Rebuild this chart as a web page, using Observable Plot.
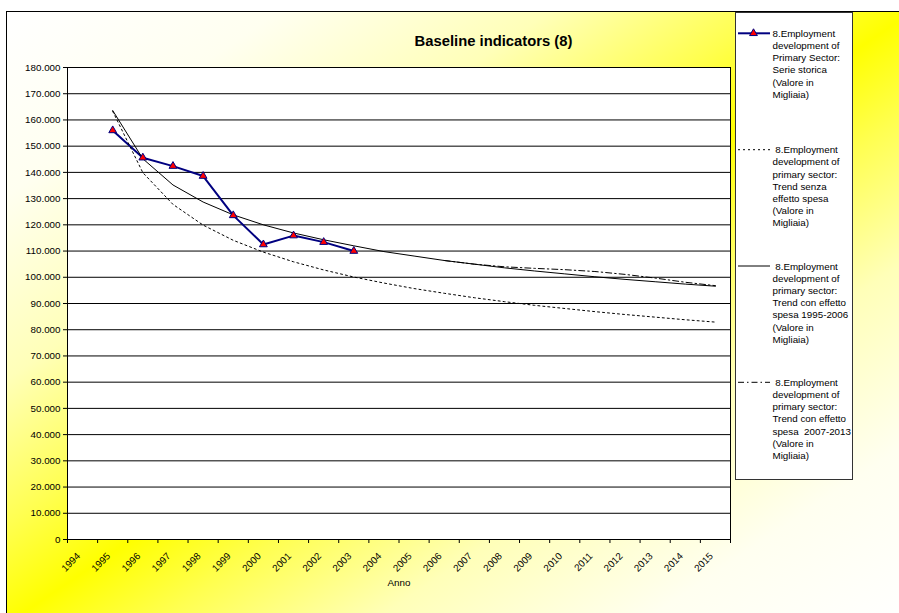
<!DOCTYPE html>
<html><head><meta charset="utf-8">
<script src="https://cdn.jsdelivr.net/npm/d3@7"></script>
<script src="https://cdn.jsdelivr.net/npm/@observablehq/plot@0.6"></script>
<style>
body{margin:0;background:#fff;}
#wrap{position:relative;width:899px;height:613px;overflow:hidden;font-family:Arial,"Liberation Sans",sans-serif;background:#fff;}
#bg{position:absolute;left:6px;top:11px;width:905px;height:612px;border:1px solid #000;
background:linear-gradient(to bottom right,#ffffff 0%,#fffff0 15%,#ffffb8 30%,#ffff50 42%,#ffff00 50%,#ffff50 58%,#ffffb8 70%,#fffff0 85%,#ffffff 100%);}
#wrap svg{position:absolute;left:0;top:0;}
</style>
</head><body>
<div id="wrap"><div id="bg"></div></div>
<script>
// ---- data ----
const categories = [1994,1995,1996,1997,1998,1999,2000,2001,2002,2003,2004,2005,2006,2007,2008,2009,2010,2011,2012,2013,2014,2015];
const yTicks = [0,10000,20000,30000,40000,50000,60000,70000,80000,90000,100000,110000,120000,130000,140000,150000,160000,170000,180000];

const histYears = [1995,1996,1997,1998,1999,2000,2001,2002,2003];
const histValues = [156000,145600,142400,138600,123600,112500,115900,113400,110000];

const trendYears = [1995,1996,1997,1998,1999,2000,2001,2002,2003,2004,2005,2006,2007,2008,2009,2010,2011,2012,2013,2014,2015];
const trendSenza = [163300,139900,127800,119900,114100,109600,105900,102800,100100,97800,95700,93900,92200,90700,89300,88100,86900,85800,84800,83800,82900];
const trendCon9506 = [163600,145200,135200,128700,123800,120000,116900,114300,112000,109800,108100,106400,105000,103600,102400,101300,100200,99200,98300,97400,96600];

const trend0713Years = [2006,2007,2008,2009,2010,2011,2012,2013,2014,2015];
const trendCon0713 = [106400,105000,104000,103400,102900,102200,101100,99700,98100,96800];

const title = "Baseline indicators (8)";
const xLabel = "Anno";
const legendItems = [
  ["8.Employment","development of","Primary Sector:","Serie storica","(Valore in","Migliaia)"],
  [" 8.Employment","development of","primary sector:","Trend senza","effetto spesa","(Valore in","Migliaia)"],
  [" 8.Employment","development of","primary sector:","Trend con effetto","spesa 1995-2006","(Valore in","Migliaia)"],
  [" 8.Employment","development of","primary sector:","Trend con effetto","spesa  2007-2013","(Valore in","Migliaia)"]
];

// ---- chart ----
const font = "Arial, 'Liberation Sans', sans-serif";
const fmt = d => d3.format(",")(d).replace(/,/g, ".");
const bandEdges = categories.map(c => c - 0.5).concat([categories[categories.length - 1] + 0.5]);

const hist = histYears.map((y, i) => ({year: y, value: histValues[i]}));
const senza = trendYears.map((y, i) => ({year: y, value: trendSenza[i]}));
const con1 = trendYears.map((y, i) => ({year: y, value: trendCon9506[i]}));
const con2 = trend0713Years.map((y, i) => ({year: y, value: trendCon0713[i]}));

const chart = Plot.plot({
  width: 899, height: 613,
  marginLeft: 67, marginRight: 169, marginTop: 67, marginBottom: 74,
  style: {background: "transparent", fontFamily: font, fontSize: "9.8px", color: "#000", overflow: "visible"},
  x: {type: "linear", domain: [bandEdges[0], bandEdges[bandEdges.length - 1]], ticks: bandEdges, tickFormat: () => "", tickSize: 4, label: null},
  y: {domain: [0, 180000], ticks: yTicks, tickFormat: fmt, tickSize: 4, tickPadding: 3, label: null},
  marks: [
    Plot.frame({fill: "#fff"}),
    Plot.ruleY(yTicks, {stroke: "#000", strokeWidth: 1}),
    Plot.frame({stroke: "#000"}),
    Plot.text(categories, {x: d => d, y: 0, text: d => String(d), rotate: -45, textAnchor: "end", lineAnchor: "middle", dx: -4, dy: 15, fontSize: 9.8, fill: "#000"}),
    Plot.text([xLabel], {frameAnchor: "bottom", text: d => d, lineAnchor: "middle", dy: 43, fontSize: 9.8, fill: "#000"}),
    Plot.line(hist, {x: "year", y: "value", stroke: "#000080", strokeWidth: 2}),
    Plot.line(senza, {x: "year", y: "value", stroke: "#000", strokeWidth: 1, strokeDasharray: "2,3"}),
    Plot.line(con1, {x: "year", y: "value", stroke: "#000", strokeWidth: 1}),
    Plot.line(con2, {x: "year", y: "value", stroke: "#000", strokeWidth: 1, strokeDasharray: "6,3,1.5,3"}),
    Plot.dot(hist, {x: "year", y: "value", symbol: "triangle", r: 2.9, fill: "#ff0000", stroke: "#000080", strokeWidth: 1})
  ]
});
const wrap = document.getElementById("wrap");
wrap.appendChild(chart);

// ---- title and legend overlay ----
const ov = d3.select(wrap).append("svg").attr("width", 899).attr("height", 613)
  .style("font-family", font).style("pointer-events", "none");
ov.append("text").attr("x", 493.5).attr("y", 46).attr("text-anchor", "middle")
  .attr("font-size", 14.8).attr("font-weight", "bold").attr("fill", "#000").text(title);

ov.append("rect").attr("x", 735.5).attr("y", 12.5).attr("width", 117).attr("height", 467)
  .attr("fill", "#fff").attr("stroke", "#333").attr("stroke-width", 1);

const entryY = [33.3, 149.7, 266, 382.3];
const lh = 12.2;
const sampleStyles = [
  {stroke: "#000080", width: 2, dash: null},
  {stroke: "#000", width: 1, dash: "2,3"},
  {stroke: "#000", width: 1, dash: null},
  {stroke: "#000", width: 1, dash: "6,3,1.5,3"}
];
legendItems.forEach((lines, k) => {
  const cy = entryY[k];
  const s = sampleStyles[k];
  const ln = ov.append("line").attr("x1", 738).attr("x2", 770).attr("y1", cy).attr("y2", cy)
    .attr("stroke", s.stroke).attr("stroke-width", s.width);
  if (s.dash) ln.attr("stroke-dasharray", s.dash);
  if (k === 0) {
    ov.append("path").attr("d", d3.symbol(d3.symbolTriangle, Math.PI * 2.9 * 2.9)())
      .attr("transform", `translate(753.5,${cy})`).attr("fill", "#ff0000").attr("stroke", "#000080");
  }
  const t = ov.append("text").attr("font-size", 9.8).attr("fill", "#000").attr("xml:space", "preserve").style("white-space", "pre");
  lines.forEach((l, i) => {
    t.append("tspan").attr("x", 772.5).attr("y", cy + 3.5 + i * lh).text(l);
  });
});
</script>
</body></html>
